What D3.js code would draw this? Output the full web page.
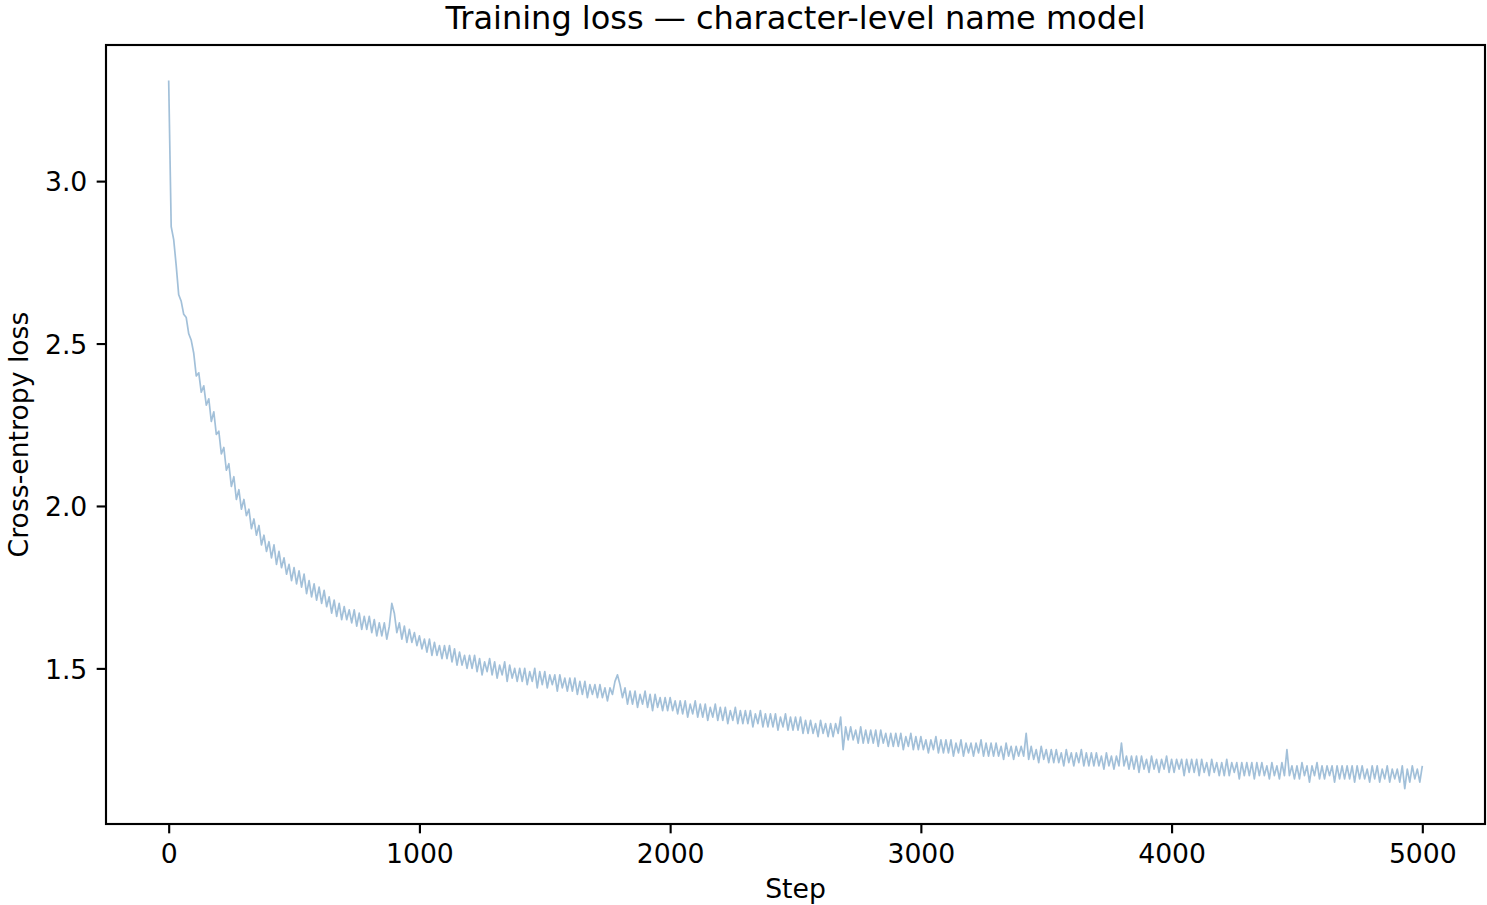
<!DOCTYPE html>
<html>
<head>
<meta charset="utf-8">
<script src="https://cdn.jsdelivr.net/npm/d3@7"></script>
<style>
  html, body { margin: 0; padding: 0; background: #fff; }
  svg text { font-family: "DejaVu Sans", sans-serif; fill: #000; }
</style>
</head>
<body>
<svg id="chart" width="1487" height="905"></svg>
<script>
// ---- data (one value every 10 steps) ----
const stepInterval = 10;
const lossValues = [
  3.31, 2.86, 2.82, 2.74, 2.65, 2.63, 2.59, 2.58, 2.53, 2.51,
  2.47, 2.40, 2.41, 2.35, 2.37, 2.31, 2.33, 2.26, 2.29, 2.22,
  2.23, 2.16, 2.18, 2.11, 2.13, 2.06, 2.09, 2.02, 2.05, 1.99,
  2.02, 1.97, 1.99, 1.93, 1.96, 1.91, 1.94, 1.88, 1.91, 1.86,
  1.89, 1.84, 1.88, 1.82, 1.86, 1.81, 1.84, 1.79, 1.82, 1.77,
  1.81, 1.76, 1.80, 1.75, 1.79, 1.73, 1.77, 1.72, 1.76, 1.71,
  1.75, 1.70, 1.74, 1.69, 1.72, 1.67, 1.71, 1.66, 1.70, 1.65,
  1.69, 1.65, 1.68, 1.64, 1.68, 1.63, 1.67, 1.62, 1.66, 1.62,
  1.66, 1.61, 1.65, 1.60, 1.64, 1.60, 1.64, 1.59, 1.63, 1.70,
  1.67, 1.61, 1.64, 1.59, 1.63, 1.58, 1.62, 1.58, 1.61, 1.57,
  1.60, 1.56, 1.59, 1.55, 1.59, 1.54, 1.58, 1.54, 1.57, 1.53,
  1.57, 1.53, 1.57, 1.52, 1.56, 1.51, 1.55, 1.51, 1.54, 1.50,
  1.54, 1.50, 1.54, 1.49, 1.53, 1.48, 1.52, 1.49, 1.53, 1.48,
  1.52, 1.47, 1.51, 1.48, 1.52, 1.46, 1.51, 1.47, 1.50, 1.46,
  1.50, 1.46, 1.50, 1.45, 1.49, 1.46, 1.50, 1.44, 1.49, 1.45,
  1.49, 1.44, 1.48, 1.45, 1.48, 1.43, 1.48, 1.44, 1.47, 1.43,
  1.47, 1.43, 1.47, 1.42, 1.46, 1.42, 1.46, 1.41, 1.45, 1.42,
  1.45, 1.41, 1.45, 1.41, 1.44, 1.40, 1.44, 1.42, 1.46, 1.48,
  1.45, 1.41, 1.44, 1.39, 1.43, 1.39, 1.43, 1.38, 1.42, 1.39,
  1.43, 1.38, 1.42, 1.37, 1.42, 1.38, 1.41, 1.37, 1.41, 1.37,
  1.41, 1.37, 1.40, 1.36, 1.40, 1.36, 1.40, 1.35, 1.39, 1.36,
  1.40, 1.35, 1.39, 1.35, 1.39, 1.34, 1.38, 1.35, 1.39, 1.34,
  1.38, 1.34, 1.38, 1.33, 1.37, 1.34, 1.38, 1.33, 1.37, 1.33,
  1.37, 1.33, 1.37, 1.32, 1.36, 1.33, 1.37, 1.32, 1.36, 1.32,
  1.36, 1.32, 1.36, 1.31, 1.35, 1.32, 1.36, 1.31, 1.35, 1.31,
  1.35, 1.31, 1.35, 1.30, 1.34, 1.30, 1.34, 1.30, 1.33, 1.29,
  1.34, 1.30, 1.33, 1.29, 1.33, 1.29, 1.33, 1.30, 1.35, 1.25,
  1.32, 1.28, 1.32, 1.28, 1.31, 1.27, 1.32, 1.27, 1.31, 1.27,
  1.31, 1.27, 1.31, 1.26, 1.31, 1.27, 1.30, 1.26, 1.30, 1.26,
  1.30, 1.26, 1.30, 1.25, 1.29, 1.26, 1.30, 1.25, 1.29, 1.25,
  1.29, 1.25, 1.28, 1.24, 1.28, 1.25, 1.29, 1.24, 1.28, 1.24,
  1.28, 1.24, 1.28, 1.23, 1.27, 1.24, 1.28, 1.23, 1.27, 1.24,
  1.27, 1.23, 1.27, 1.24, 1.28, 1.23, 1.27, 1.23, 1.27, 1.23,
  1.27, 1.23, 1.26, 1.22, 1.27, 1.23, 1.26, 1.22, 1.26, 1.23,
  1.26, 1.23, 1.30, 1.22, 1.26, 1.22, 1.25, 1.21, 1.26, 1.22,
  1.25, 1.21, 1.25, 1.21, 1.25, 1.21, 1.24, 1.20, 1.25, 1.21,
  1.24, 1.20, 1.24, 1.21, 1.25, 1.20, 1.24, 1.20, 1.24, 1.20,
  1.24, 1.20, 1.23, 1.19, 1.24, 1.20, 1.23, 1.19, 1.23, 1.20,
  1.27, 1.20, 1.23, 1.19, 1.23, 1.19, 1.23, 1.18, 1.23, 1.19,
  1.22, 1.18, 1.23, 1.19, 1.22, 1.18, 1.22, 1.19, 1.23, 1.18,
  1.22, 1.18, 1.22, 1.19, 1.22, 1.17, 1.22, 1.18, 1.22, 1.18,
  1.22, 1.17, 1.22, 1.18, 1.21, 1.17, 1.22, 1.18, 1.21, 1.17,
  1.21, 1.17, 1.22, 1.17, 1.21, 1.18, 1.21, 1.16, 1.21, 1.17,
  1.21, 1.17, 1.21, 1.16, 1.21, 1.17, 1.21, 1.17, 1.20, 1.16,
  1.21, 1.17, 1.20, 1.16, 1.21, 1.17, 1.25, 1.17, 1.20, 1.16,
  1.20, 1.16, 1.21, 1.17, 1.20, 1.15, 1.20, 1.17, 1.21, 1.16,
  1.20, 1.16, 1.20, 1.17, 1.20, 1.15, 1.20, 1.16, 1.20, 1.16,
  1.20, 1.16, 1.20, 1.15, 1.20, 1.16, 1.20, 1.16, 1.19, 1.15,
  1.20, 1.16, 1.20, 1.15, 1.19, 1.16, 1.20, 1.15, 1.19, 1.16,
  1.19, 1.15, 1.20, 1.13, 1.19, 1.15, 1.20, 1.16, 1.19, 1.15,
  1.20
];
const xTicks = [0, 1000, 2000, 3000, 4000, 5000];
const yTicks = [1.5, 2.0, 2.5, 3.0];
const titleText = "Training loss — character-level name model";
const xLabelText = "Step";
const yLabelText = "Cross-entropy loss";

// ---- layout ----
const W = 1487, H = 905;
const m = { left: 106, top: 45, right: 1485, bottom: 824 };
const svg = d3.select("#chart");

const data = lossValues.map((v, i) => ({ step: i * stepInterval, loss: v }));
const xExt = d3.extent(data, d => d.step);
const yExt = d3.extent(data, d => d.loss);
const xPad = (xExt[1] - xExt[0]) * 0.05;
const yPad = (yExt[1] - yExt[0]) * 0.05;

const x = d3.scaleLinear().domain([xExt[0] - xPad, xExt[1] + xPad]).range([m.left, m.right]);
const y = d3.scaleLinear().domain([yExt[0] - yPad, yExt[1] + yPad]).range([m.bottom, m.top]);

const tickLen = 9.33, tickPad = 9.33, axisW = 2.13, fs = 26.67;

// line (clipped to axes)
svg.append("clipPath").attr("id", "clip")
  .append("rect").attr("x", m.left).attr("y", m.top)
  .attr("width", m.right - m.left).attr("height", m.bottom - m.top);

const line = d3.line().x(d => x(d.step)).y(d => y(d.loss));
svg.append("path")
  .datum(data)
  .attr("clip-path", "url(#clip)")
  .attr("d", line)
  .attr("fill", "none")
  .attr("stroke", "steelblue")
  .attr("stroke-opacity", 0.5)
  .attr("stroke-width", 1.7)
  .attr("stroke-linejoin", "round");

// axes
const xAxis = d3.axisBottom(x).tickValues(xTicks).tickFormat(d3.format("d"))
  .tickSize(tickLen).tickPadding(tickPad);
const yAxis = d3.axisLeft(y).tickValues(yTicks).tickFormat(d3.format(".1f"))
  .tickSize(tickLen).tickPadding(tickPad);

const gx = svg.append("g").attr("transform", `translate(0,${m.bottom})`).call(xAxis);
const gy = svg.append("g").attr("transform", `translate(${m.left},0)`).call(yAxis);
[gx, gy].forEach(g => {
  g.select(".domain").remove();
  g.selectAll(".tick line").attr("stroke", "#000").attr("stroke-width", axisW);
  g.selectAll(".tick text").attr("font-size", fs).attr("fill", "#000")
    .style("font-family", "'DejaVu Sans', sans-serif");
});
gx.selectAll(".tick text").attr("dy", "0.76em");
gy.selectAll(".tick text").attr("dy", "0.36em");

// frame
svg.append("rect")
  .attr("x", m.left).attr("y", m.top)
  .attr("width", m.right - m.left).attr("height", m.bottom - m.top)
  .attr("fill", "none").attr("stroke", "#000").attr("stroke-width", axisW);

// title and labels
svg.append("text").attr("x", (m.left + m.right) / 2).attr("y", 29)
  .attr("text-anchor", "middle").attr("font-size", 32).text(titleText);
svg.append("text").attr("x", (m.left + m.right) / 2).attr("y", 898)
  .attr("text-anchor", "middle").attr("font-size", fs).text(xLabelText);
svg.append("text")
  .attr("transform", `translate(28,${(m.top + m.bottom) / 2}) rotate(-90)`)
  .attr("text-anchor", "middle").attr("font-size", fs).text(yLabelText);
</script>
</body>
</html>
